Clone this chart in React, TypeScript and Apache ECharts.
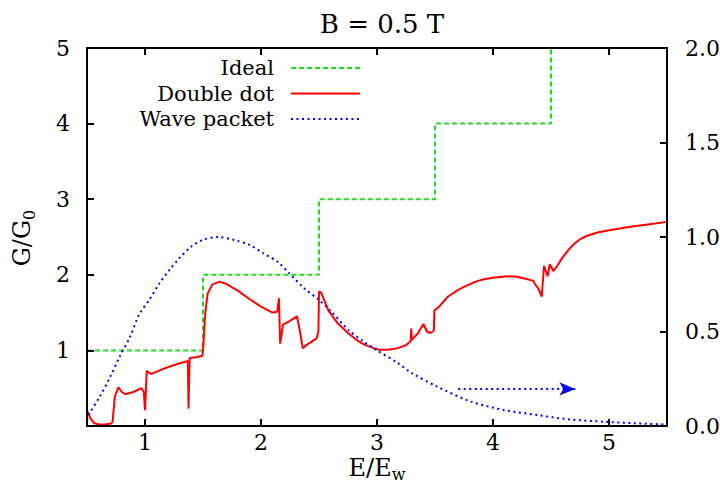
import React, { useEffect, useRef } from "react";
import * as echarts from "echarts";

const FONT = "DejaVu Serif";

const idealE = [0.5, 1.5, 1.5, 2.5, 2.5, 3.5, 3.5, 4.5, 4.5, 5.5];
const idealG = [1, 1, 2, 2, 3, 3, 4, 4, 5, 5];

const dotE = [0.5, 0.53, 0.56, 0.6, 0.65, 0.7, 0.72, 0.74, 0.77, 0.8, 0.83, 0.9, 0.97, 0.99, 1.0, 1.015, 1.03, 1.055, 1.1, 1.2, 1.3, 1.37, 1.375, 1.385, 1.44, 1.495, 1.5, 1.52, 1.54, 1.58, 1.64, 1.7, 1.8, 1.9, 2.0, 2.1, 2.14, 2.155, 2.165, 2.19, 2.25, 2.31, 2.33, 2.36, 2.4, 2.48, 2.495, 2.5, 2.52, 2.58, 2.66, 2.75, 2.83, 2.9, 3.01, 3.1, 3.18, 3.25, 3.29, 3.295, 3.3, 3.35, 3.4, 3.43, 3.46, 3.49, 3.495, 3.53, 3.61, 3.7, 3.75, 3.85, 3.92, 4.0, 4.12, 4.21, 4.27, 4.35, 4.36, 4.39, 4.42, 4.44, 4.47, 4.49, 4.52, 4.55, 4.6, 4.65, 4.7, 4.75, 4.8, 4.9, 5.0, 5.2, 5.35, 5.5];
const dotG = [0.21, 0.1, 0.04, 0.02, 0.02, 0.03, 0.05, 0.39, 0.51, 0.45, 0.42, 0.45, 0.5, 0.45, 0.21, 0.73, 0.71, 0.69, 0.72, 0.78, 0.83, 0.86, 0.23, 0.9, 0.91, 0.93, 1.0, 1.5, 1.75, 1.87, 1.91, 1.88, 1.79, 1.68, 1.58, 1.5, 1.51, 1.69, 1.09, 1.34, 1.39, 1.45, 1.3, 1.03, 1.08, 1.16, 1.25, 1.78, 1.76, 1.53, 1.36, 1.23, 1.13, 1.07, 1.01, 1.01, 1.03, 1.07, 1.12, 1.29, 1.14, 1.22, 1.35, 1.25, 1.23, 1.26, 1.53, 1.57, 1.71, 1.8, 1.84, 1.91, 1.94, 1.96, 1.98, 1.975, 1.95, 1.92, 1.88, 1.82, 1.71, 2.12, 1.98, 2.14, 2.05, 2.11, 2.23, 2.33, 2.41, 2.47, 2.51, 2.56, 2.59, 2.64, 2.67, 2.7];

const waveE = [0.5, 0.525, 0.61, 0.7, 0.78, 0.87, 0.95, 1.04, 1.125, 1.21, 1.3, 1.4, 1.5, 1.625, 1.77, 1.9, 2.02, 2.15, 2.24, 2.37, 2.5, 2.6, 2.75, 2.9, 3.0, 3.18, 3.3, 3.52, 3.81, 4.09, 4.38, 4.66, 4.95, 5.24, 5.5];
const waveV = [0.03, 0.07, 0.155, 0.26, 0.365, 0.47, 0.59, 0.67, 0.755, 0.825, 0.89, 0.95, 0.985, 1.0, 0.984, 0.958, 0.914, 0.865, 0.81, 0.73, 0.667, 0.61, 0.51, 0.44, 0.4, 0.333, 0.28, 0.208, 0.129, 0.085, 0.058, 0.035, 0.023, 0.014, 0.008];

const arrowStart = [3.7, 0.196];
const arrowEnd = [4.71, 0.196];

const xTicks = [1, 2, 3, 4, 5];
const leftTicks = [1, 2, 3, 4, 5];

const legendNames = ["Ideal", "Double dot", "Wave packet"];
const GREEN = "#1fdc1f";
const RED = "#ff0000";
const BLUE = "#0000ff";

const zip = (a: number[], b: number[]) => a.map((v, i) => [v, b[i]]);

export default function App() {
  const ref = useRef<HTMLDivElement>(null);
  useEffect(() => {
    if (!ref.current) return;
    const chart = echarts.init(ref.current, null, { renderer: "svg" });
    const L = 87, R = 667, T = 48, B = 426;
    const legendColors = [GREEN, RED, BLUE];
    const legendDash: any[] = [[5, 3], null, [2, 3.5]];
    const legendY = [68, 93.5, 119];
    const legendGraphics: any[] = [];
    legendNames.forEach((n, i) => {
      legendGraphics.push({
        type: "text",
        x: 274,
        y: legendY[i],
        style: { text: n, fontFamily: FONT, fontSize: 21, fill: "#000", align: "right", verticalAlign: "middle" },
      });
      legendGraphics.push({
        type: "line",
        shape: { x1: 291, y1: legendY[i], x2: 360, y2: legendY[i] },
        style: { stroke: legendColors[i], lineWidth: 2, lineDash: legendDash[i] || undefined },
      });
    });
    const axisLine = { show: true, onZero: false, lineStyle: { color: "#000", width: 2 } };
    const tick = { show: true, inside: true, length: 7, lineStyle: { color: "#000", width: 2 } };
    chart.setOption({
      animation: false,
      textStyle: { fontFamily: FONT },
      title: {
        text: "B = 0.5 T",
        left: 377,
        top: 6,
        textAlign: "center",
        textStyle: { fontFamily: FONT, fontSize: 26, fontWeight: "normal", color: "#000" },
      },
      grid: { left: L, right: 720 - R, top: T, bottom: 493 - B, outerBoundsMode: "none", containLabel: false },
      xAxis: [
        {
          type: "value",
          min: 0.5,
          max: 5.5,
          position: "bottom",
          z: 10,
          axisLine,
          splitLine: { show: false },
          axisTick: { ...tick, customValues: xTicks },
          axisLabel: { customValues: xTicks, fontFamily: FONT, fontSize: 22, color: "#000", margin: 5 },
        },
        {
          type: "value",
          min: 0.5,
          max: 5.5,
          position: "top",
          z: 10,
          axisLine,
          splitLine: { show: false },
          axisTick: { ...tick, customValues: xTicks },
          axisLabel: { show: false },
        },
      ],
      yAxis: [
        {
          type: "value",
          min: 0,
          max: 5,
          interval: 1,
          position: "left",
          z: 10,
          axisLine,
          splitLine: { show: false },
          axisTick: { ...tick, customValues: leftTicks },
          axisLabel: { customValues: leftTicks, fontFamily: FONT, fontSize: 22, color: "#000", margin: 17 },
        },
        {
          type: "value",
          min: 0,
          max: 2,
          interval: 0.5,
          position: "right",
          z: 10,
          axisLine,
          splitLine: { show: false },
          axisTick: tick,
          axisLabel: {
            fontFamily: FONT,
            fontSize: 22,
            color: "#000",
            margin: 18,
            formatter: (v: number) => v.toFixed(1),
          },
        },
      ],
      series: [
        {
          name: "Ideal",
          type: "line",
          xAxisIndex: 0,
          yAxisIndex: 0,
          data: zip(idealE, idealG),
          showSymbol: false,
          lineStyle: { color: GREEN, width: 2, type: [5, 3] },
          z: 3,
        },
        {
          name: "Double dot",
          type: "line",
          xAxisIndex: 0,
          yAxisIndex: 0,
          data: zip(dotE, dotG),
          showSymbol: false,
          lineStyle: { color: RED, width: 2 },
          z: 4,
        },
        {
          name: "Wave packet",
          type: "line",
          xAxisIndex: 0,
          yAxisIndex: 1,
          data: zip(waveE, waveV),
          showSymbol: false,
          smooth: 0.3,
          lineStyle: { color: BLUE, width: 2, type: [2, 3.5] },
          z: 5,
          markLine: {
            silent: true,
            symbol: ["none", "arrow"],
            symbolSize: [10, 16],
            label: { show: false },
            lineStyle: { color: BLUE, width: 2, type: [2, 3.5] },
            data: [[{ coord: arrowStart }, { coord: arrowEnd }]],
          },
        },
      ],
      graphic: [
        ...legendGraphics,
        {
          type: "text",
          x: 22,
          y: 238,
          rotation: Math.PI / 2,
          style: {
            text: "{a|G/G}{s|0}",
            align: "center",
            verticalAlign: "middle",
            rich: {
              a: { fontFamily: FONT, fontSize: 24, fill: "#000", lineHeight: 30, verticalAlign: "middle" },
              s: { fontFamily: FONT, fontSize: 16, fill: "#000", lineHeight: 30, verticalAlign: "bottom" },
            },
          },
        },
        {
          type: "text",
          x: 377,
          y: 468,
          style: {
            text: "{a|E/E}{s|w}",
            align: "center",
            verticalAlign: "middle",
            rich: {
              a: { fontFamily: FONT, fontSize: 24, fill: "#000", lineHeight: 28, verticalAlign: "middle" },
              s: { fontFamily: FONT, fontSize: 16, fill: "#000", lineHeight: 28, verticalAlign: "bottom" },
            },
          },
        },
      ],
    });
    return () => chart.dispose();
  }, []);
  return <div ref={ref} style={{ width: 720, height: 493, position: "absolute", left: 0, top: 0 }} />;
}
